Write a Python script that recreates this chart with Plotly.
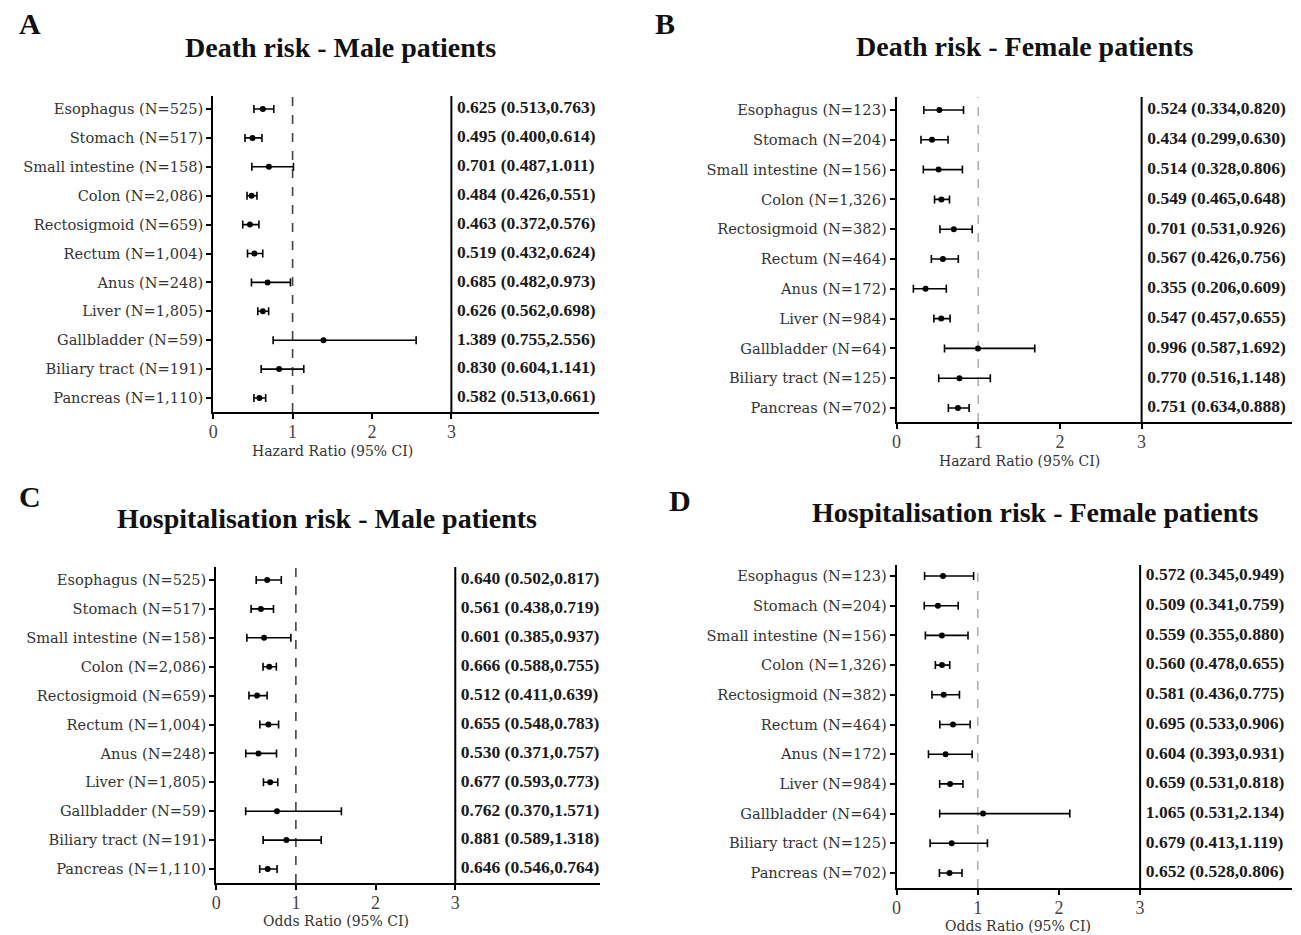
import plotly.graph_objects as go

# ---------------- data ----------------
sites = ["Esophagus", "Stomach", "Small intestine", "Colon", "Rectosigmoid", "Rectum",
         "Anus", "Liver", "Gallbladder", "Biliary tract", "Pancreas"]
n_male = ["525", "517", "158", "2,086", "659", "1,004", "248", "1,805", "59", "191", "1,110"]
n_female = ["123", "204", "156", "1,326", "382", "464", "172", "984", "64", "125", "702"]

death_male_est = [0.625, 0.495, 0.701, 0.484, 0.463, 0.519, 0.685, 0.626, 1.389, 0.830, 0.582]
death_male_lo = [0.513, 0.400, 0.487, 0.426, 0.372, 0.432, 0.482, 0.562, 0.755, 0.604, 0.513]
death_male_hi = [0.763, 0.614, 1.011, 0.551, 0.576, 0.624, 0.973, 0.698, 2.556, 1.141, 0.661]

death_female_est = [0.524, 0.434, 0.514, 0.549, 0.701, 0.567, 0.355, 0.547, 0.996, 0.770, 0.751]
death_female_lo = [0.334, 0.299, 0.328, 0.465, 0.531, 0.426, 0.206, 0.457, 0.587, 0.516, 0.634]
death_female_hi = [0.820, 0.630, 0.806, 0.648, 0.926, 0.756, 0.609, 0.655, 1.692, 1.148, 0.888]

hosp_male_est = [0.640, 0.561, 0.601, 0.666, 0.512, 0.655, 0.530, 0.677, 0.762, 0.881, 0.646]
hosp_male_lo = [0.502, 0.438, 0.385, 0.588, 0.411, 0.548, 0.371, 0.593, 0.370, 0.589, 0.546]
hosp_male_hi = [0.817, 0.719, 0.937, 0.755, 0.639, 0.783, 0.757, 0.773, 1.571, 1.318, 0.764]

hosp_female_est = [0.572, 0.509, 0.559, 0.560, 0.581, 0.695, 0.604, 0.659, 1.065, 0.679, 0.652]
hosp_female_lo = [0.345, 0.341, 0.355, 0.478, 0.436, 0.533, 0.393, 0.531, 0.531, 0.413, 0.528]
hosp_female_hi = [0.949, 0.759, 0.880, 0.655, 0.775, 0.906, 0.931, 0.818, 2.134, 1.119, 0.806]

x_ticks = [0, 1, 2, 3]

W, H = 1301, 935

panels = [
    dict(letter="A", title="Death risk - Male patients", xlabel="Hazard Ratio (95% CI)",
         n=n_male, est=death_male_est, lo=death_male_lo, hi=death_male_hi,
         px=(209, 596), unit=79.7, py=(96, 412), row0=109, rowN=398,
         title_xy=(337, 47), letter_xy=(25, 23), xlab_y=451, ref_color="#444444"),
    dict(letter="B", title="Death risk - Female patients", xlabel="Hazard Ratio (95% CI)",
         n=n_female, est=death_female_est, lo=death_female_lo, hi=death_female_hi,
         px=(895, 1292), unit=82.0, py=(97, 422), row0=110, rowN=408,
         title_xy=(1024, 46), letter_xy=(663, 23), xlab_y=461, ref_color="#b0b0b0"),
    dict(letter="C", title="Hospitalisation risk - Male patients", xlabel="Odds Ratio (95% CI)",
         n=n_male, est=hosp_male_est, lo=hosp_male_lo, hi=hosp_male_hi,
         px=(212, 597), unit=80.0, py=(567, 883), row0=580, rowN=869,
         title_xy=(323, 518), letter_xy=(25, 497), xlab_y=921, ref_color="#444444"),
    dict(letter="D", title="Hospitalisation risk - Female patients", xlabel="Odds Ratio (95% CI)",
         n=n_female, est=hosp_female_est, lo=hosp_female_lo, hi=hosp_female_hi,
         px=(895, 1292), unit=81.5, py=(565, 888), row0=576, rowN=873,
         title_xy=(1034, 512), letter_xy=(678, 500), xlab_y=926, ref_color="#b0b0b0"),
]

LABEL_FONT = dict(family="DejaVu Serif", size=14.6, color="#333333")
VAL_FONT = dict(family="Liberation Serif", size=17.5, color="#1a1a1a")
TITLE_FONT = dict(family="Liberation Serif", size=28, color="#111111")

fig = go.Figure()
shapes = []
annotations = []
rows = list(range(len(sites)))

for i, p in enumerate(panels):
    k = "" if i == 0 else str(i + 1)
    xa, ya = "x" + k, "y" + k
    labels = [f"{s} (N={n})" for s, n in zip(sites, p["n"])]
    texts = [f"{e:.3f} ({l:.3f},{h:.3f})" for e, l, h in zip(p["est"], p["lo"], p["hi"])]
    plus = [h - e for e, h in zip(p["est"], p["hi"])]
    minus = [e - l for e, l in zip(p["est"], p["lo"])]

    fig.add_trace(go.Scatter(
        x=p["est"], y=rows, mode="markers", xaxis=xa, yaxis=ya,
        marker=dict(color="black", size=6),
        error_x=dict(type="data", symmetric=False, array=plus, arrayminus=minus,
                     color="black", thickness=1.6, width=4),
        showlegend=False, hoverinfo="skip", cliponaxis=False))
    fig.add_trace(go.Scatter(
        x=[3.07] * len(rows), y=rows, mode="text", text=[f"<b>{t}</b>" for t in texts],
        textposition="middle right", textfont=VAL_FONT, xaxis=xa, yaxis=ya,
        showlegend=False, hoverinfo="skip", cliponaxis=False))

    x0, x1 = p["px"]
    xmax = (x1 - x0) / p["unit"]
    sp = (p["rowN"] - p["row0"]) / 10.0
    ytop = (p["py"][0] - p["row0"]) / sp
    ybot = 10 + (p["py"][1] - p["rowN"]) / sp

    fig.layout["xaxis" + k] = dict(
        domain=[x0 / W, x1 / W], range=[0, xmax], anchor=ya,
        tickvals=x_ticks, ticktext=[str(t) for t in x_ticks],
        showline=True, linecolor="black", linewidth=2, ticks="outside", ticklen=5,
        tickwidth=2, tickcolor="black", showgrid=False, zeroline=False,
        ticklabelstandoff=-3,
        tickfont=dict(family="Liberation Serif", size=18, color="#444444"))
    fig.layout["yaxis" + k] = dict(
        domain=[1 - p["py"][1] / H, 1 - p["py"][0] / H], range=[ybot, ytop], anchor=xa,
        tickvals=rows, ticktext=labels, showline=True, linecolor="black", linewidth=2,
        ticks="outside", ticklen=5, tickwidth=2, tickcolor="black", showgrid=False,
        zeroline=False, tickfont=LABEL_FONT)

    shapes.append(dict(type="line", xref=xa, yref=ya + " domain", x0=1, x1=1, y0=0, y1=1,
                       line=dict(color=p["ref_color"], width=1.6, dash="dash"), layer="below"))
    shapes.append(dict(type="line", xref=xa, yref=ya + " domain", x0=3, x1=3, y0=0, y1=1,
                       line=dict(color="black", width=2)))

    annotations.append(dict(text=p["letter"], xref="paper", yref="paper",
                            x=p["letter_xy"][0] / W, y=1 - p["letter_xy"][1] / H,
                            xanchor="center", yanchor="middle", showarrow=False,
                            font=dict(family="Liberation Serif", size=30, color="#111111",
                                      weight="bold")))
    annotations.append(dict(text=p["title"], xref="paper", yref="paper",
                            x=p["title_xy"][0] / W, y=1 - p["title_xy"][1] / H,
                            xanchor="center", yanchor="middle", showarrow=False,
                            font=dict(TITLE_FONT, weight="bold")))
    annotations.append(dict(text=p["xlabel"], xref=xa, yref="paper",
                            x=1.5, y=1 - p["xlab_y"] / H,
                            xanchor="center", yanchor="middle", showarrow=False,
                            font=dict(family="DejaVu Serif", size=14, color="#333333")))

fig.update_layout(width=W, height=H, margin=dict(l=0, r=0, t=0, b=0),
                  paper_bgcolor="white", plot_bgcolor="white",
                  shapes=shapes, annotations=annotations)

fig.write_html("out.html")
